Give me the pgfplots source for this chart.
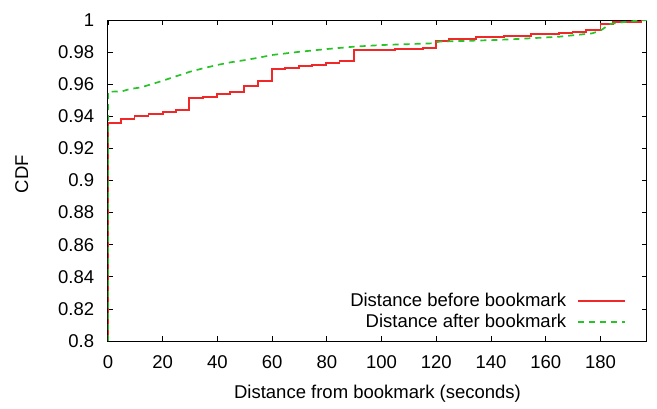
\documentclass[border=0pt]{standalone}
\usepackage{fontspec}
\setmainfont{Liberation Sans}
\usepackage{pgfplots}
\pgfplotsset{compat=1.18}
\definecolor{gpred}{RGB}{240,40,40}
\definecolor{gpgreen}{RGB}{40,195,40}
\pgfplotsset{
  gplegend/.style={legend image code/.code={\path (0pt,0pt); \draw[##1] (9pt,0pt) -- (56pt,0pt);}},
}
\begin{document}
\fontsize{18.5pt}{22pt}\selectfont
\begin{tikzpicture}
\begin{axis}[
  scale only axis, width=539pt, height=321pt,
  at={(0pt,0pt)}, anchor=south west,
  xmin=0, xmax=197, ymin=0.8, ymax=1,
  xtick={0,20,40,60,80,100,120,140,160,180},
  ytick={0.8,0.82,0.84,0.86,0.88,0.9,0.92,0.94,0.96,0.98,1},
  yticklabels={0.8,0.82,0.84,0.86,0.88,0.9,0.92,0.94,0.96,0.98,1},
  tick align=inside, major tick length=5pt,
  tick style={black, line width=0.8pt},
  axis line style={black, line width=1pt},
  /pgf/number format/assume math mode=true,
  xticklabel style={yshift=-8pt},
  yticklabel style={xshift=-7.5pt},
  xlabel={Distance from bookmark (seconds)},
  ylabel={CDF},
  xlabel style={at={(rel axis cs:0.5,-0.165)}, anchor=center},
  ylabel style={at={(rel axis cs:-0.16,0.52)}, anchor=center},
  legend plot pos=right,
  legend cell align=right,
  gplegend,
  legend style={draw=none, fill=none, at={(rel axis cs:0.967,0.02)}, anchor=south east,
    row sep=1pt, nodes={inner sep=2pt}},
]
\addplot[const plot, color=gpred, draw=gpred, line width=1.8pt] coordinates {
(0,0.8) (0,0.9356) (4.7,0.9383) (9.7,0.9400) (14.8,0.9414) (20,0.9429)
(24.8,0.9440) (29.7,0.9512) (34.6,0.9522) (39.7,0.9537) (44.6,0.9553)
(49.7,0.9589) (54.7,0.9622) (59.8,0.9695) (64.6,0.9703) (69.7,0.9712)
(74.7,0.9720) (79.8,0.9730) (84.6,0.9745) (89.8,0.9813) (104.8,0.9817)
(115,0.9827) (120,0.9871) (124.5,0.9882) (134.6,0.9892) (144.6,0.9902)
(154.7,0.9911) (164.7,0.9917) (169.8,0.9927) (174.7,0.9938) (180,0.9975)
(184.5,0.9990) (195,1.0) (197,1.0)
};
\addlegendentry{Distance before bookmark}
\addplot[color=gpgreen, draw=gpgreen, line width=1.7pt, dash pattern=on 6pt off 5pt] coordinates {
(0,0.8) (0,0.9553) (5,0.9555) (8,0.9570) (12,0.9580) (19,0.9616) (25,0.9650)
(30,0.9678) (35,0.9700) (40,0.9720) (45,0.9737) (50,0.9750) (55,0.9765)
(60,0.9782) (65,0.9792) (70,0.9802) (80,0.9819) (90,0.9834) (100,0.9844)
(119,0.9855) (121,0.9865) (141,0.9875) (150,0.9882) (165,0.9896) (177,0.9917)
(180,0.9934) (183.5,0.9975) (189.6,0.9990) (197,1.0)
};
\addlegendentry{Distance after bookmark}
\end{axis}
\pgfresetboundingbox
\path[use as bounding box] (-108pt,-67pt) rectangle (549pt,341pt);
\end{tikzpicture}
\end{document}
